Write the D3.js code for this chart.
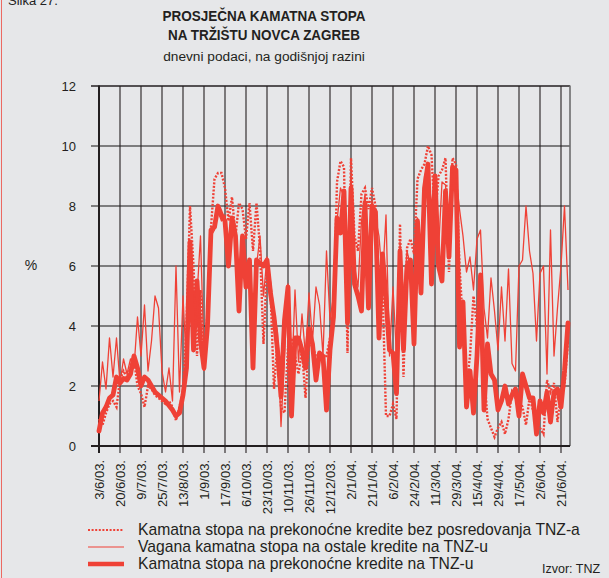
<!DOCTYPE html>
<html><head><meta charset="utf-8">
<script src="https://cdn.jsdelivr.net/npm/d3@7/dist/d3.min.js"></script>
<style>
html,body{margin:0;padding:0;background:#e6e7e9;}
svg{display:block;font-family:"Liberation Sans",Arial,sans-serif;}
</style></head>
<body>
<script>
// ---- data (one value every two working days) ----
const tickLabels = ["3/6/03.","20/6/03.","9/7/03.","25/7/03.","13/8/03.","1/9/03.","17/9/03.","6/10/03.","23/10/03.","10/11/03.","26/11/03.","12/12/03.","2/1/04.","21/1/04.","6/2/04.","24/2/04.","11/3/04.","29/3/04.","15/4/04.","29/4/04.","17/5/04.","2/6/04.","21/6/04."];
const yTicks = [0,2,4,6,8,10,12];

// Kamatna stopa na prekonoćne kredite bez posredovanja TNZ-a (dotted)
const seriesDirect = [0.9,0.7,1.1,1.4,1.5,1.3,2.2,2.5,2.3,2.6,2.9,2.0,1.75,1.3,2.0,1.9,1.7,1.6,1.5,1.4,
1.5,1.3,0.85,1.3,1.8,4.0,8.0,6.0,3.0,5.2,2.5,4.5,7.3,8.9,9.1,9.1,8.6,7.5,8.3,7.0,
8.1,7.9,6.9,8.1,6.5,8.1,6.6,3.4,6.0,5.2,1.9,3.5,1.3,1.1,3.3,3.6,3.0,2.4,3.2,1.6,
3.5,3.3,3.0,3.0,3.0,3.0,3.6,4.2,8.8,9.5,9.3,3.1,9.6,7.0,6.5,8.4,8.6,7.9,8.6,8.0,
5.0,5.3,1.0,1.0,1.4,0.9,7.4,2.3,6.6,6.9,6.4,8.9,9.2,9.4,10.0,9.7,7.5,9.0,9.2,9.6,
5.8,9.6,9.4,6.0,4.0,2.0,3.0,5.0,4.0,4.1,2.5,0.9,0.6,0.3,0.6,0.8,0.4,0.9,1.8,1.6,
1.5,1.3,0.7,1.6,1.2,0.8,0.6,0.4,2.2,1.8,2.1,0.8,1.7,2.0,3.5];

// Vagana kamatna stopa na ostale kredite na TNZ-u (thin)
const seriesOther = [1.5,2.8,1.9,3.6,2.3,3.6,2.1,2.9,2.4,2.9,2.6,4.3,3.0,4.7,2.5,3.5,5.0,4.6,2.5,1.8,
2.6,1.5,6.0,1.8,5.0,2.6,6.5,3.3,5.0,7.0,3.0,4.2,7.0,7.2,7.8,7.5,7.7,6.3,7.5,6.8,
5.0,6.9,5.5,6.0,3.5,6.0,7.0,5.0,6.3,5.5,4.5,3.8,0.65,3.0,5.4,2.0,5.2,2.8,4.4,3.0,
5.1,3.5,5.3,4.7,3.0,6.5,4.2,5.0,7.5,8.6,8.3,5.5,9.0,6.0,5.3,7.5,8.4,6.5,8.2,7.6,
7.0,5.5,7.7,3.0,5.3,3.0,6.8,5.0,6.5,6.0,4.5,7.6,6.5,9.0,9.3,8.0,9.0,6.5,8.8,8.7,
7.0,9.1,9.0,7.9,7.0,5.8,6.3,5.2,6.9,7.2,4.6,3.6,5.6,4.5,3.2,5.3,3.5,5.9,2.75,2.5,
6.0,6.2,8.0,6.5,5.75,3.5,5.75,6.0,2.4,7.2,3.0,4.6,6.0,8.0,5.2];

// Kamatna stopa na prekonoćne kredite na TNZ-u (thick)
const seriesOvernight = [0.5,1.1,1.3,1.6,1.7,2.3,2.1,2.25,2.2,2.4,3.0,2.6,2.0,2.3,2.2,2.0,1.8,1.7,1.6,1.5,
1.35,1.2,1.0,1.1,1.7,2.6,6.8,3.2,5.5,3.5,2.6,4.0,7.2,7.3,8.0,7.7,7.5,6.0,7.6,7.0,
4.5,7.0,5.3,6.2,2.6,6.2,6.1,6.0,6.2,5.1,4.3,3.2,1.65,4.2,5.3,1.0,3.6,3.6,3.2,2.6,
3.9,3.4,2.2,3.1,3.0,1.2,3.2,4.3,7.6,7.1,8.5,4.1,8.6,5.4,5.0,4.5,8.1,4.6,8.0,7.8,
3.6,6.4,4.9,3.2,3.1,1.75,6.5,3.2,6.0,6.2,3.4,7.5,5.1,8.6,9.4,5.4,9.0,6.0,5.5,8.5,
6.3,9.3,9.2,3.3,4.8,1.3,2.5,1.1,3.0,5.7,1.2,3.4,2.4,2.2,1.2,1.5,2.0,1.4,1.7,1.9,
1.0,2.4,2.0,1.6,1.6,0.4,1.5,1.1,1.8,0.8,1.8,1.9,1.3,2.5,4.1];

const legendItems = [
  {label:"Kamatna stopa na prekonoćne kredite bez posredovanja TNZ-a", kind:"dotted"},
  {label:"Vagana kamatna stopa na ostale kredite na TNZ-u", kind:"thin"},
  {label:"Kamatna stopa na prekonoćne kredite na TNZ-u", kind:"thick"}
];

(function(){
const RED = "#ef4136";
const W = 609, H = 578;
const svg = d3.select("body").append("svg").attr("width", W).attr("height", H);
svg.append("rect").attr("width", W).attr("height", H).attr("fill", "#e6e7e9");
svg.append("line").attr("x1",1.5).attr("x2",1.5).attr("y1",0).attr("y2",H)
  .attr("stroke","#ec6a62").attr("stroke-width",1);

svg.append("text").attr("x",8).attr("y",5).attr("font-size",13).attr("fill","#222").text("Slika 27.");

// titles
svg.append("text").attr("x",264).attr("y",20.5).attr("text-anchor","middle")
  .attr("font-size",13.8).attr("font-weight","bold").attr("fill","#231f20")
  .attr("textLength",203).attr("lengthAdjust","spacingAndGlyphs").text("PROSJEČNA KAMATNA STOPA");
svg.append("text").attr("x",264).attr("y",39.5).attr("text-anchor","middle")
  .attr("font-size",13.8).attr("font-weight","bold").attr("fill","#231f20")
  .attr("textLength",192).attr("lengthAdjust","spacingAndGlyphs").text("NA TRŽIŠTU NOVCA ZAGREB");
svg.append("text").attr("x",264).attr("y",61).attr("text-anchor","middle")
  .attr("font-size",13.7).attr("fill","#231f20").text("dnevni podaci, na godišnjoj razini");

const pL = 99, pR = 570, pT = 86, pB = 446;
const x = d3.scaleLinear().domain([0, (pR-pL)/3.5]).range([pL, pR]);
const y = d3.scaleLinear().domain([0, 12]).range([pB, pT]);
const tickIdx = tickLabels.map((d,i)=>i*6);

// horizontal gridlines
svg.append("g").selectAll("line").data(yTicks).join("line")
  .attr("x1", pL-8).attr("x2", pR).attr("y1", d=>y(d)).attr("y2", d=>y(d))
  .attr("stroke", d => d===12 ? "#231f20" : "#5a5a5a").attr("stroke-width", d=> d===12?1.5:1.6);

// vertical gridlines
svg.append("g").selectAll("line").data(tickIdx).join("line")
  .attr("x1", d=>x(d)).attr("x2", d=>x(d)).attr("y1", pT).attr("y2", pB+7)
  .attr("stroke", "#231f20").attr("stroke-width", 1.1);
svg.append("line").attr("x1",pR).attr("x2",pR).attr("y1",pT-0.5).attr("y2",pB)
  .attr("stroke","#6d6d6d").attr("stroke-width",1.6);

// y axis labels
const yAxis = d3.axisLeft(y).tickValues(yTicks).tickSize(0).tickPadding(0).tickFormat(d3.format("d"));
const gy = svg.append("g").attr("transform",`translate(${pL-23},0)`).call(yAxis);
gy.select(".domain").remove();
gy.selectAll("text").attr("font-size",13).attr("fill","#231f20").attr("font-family","Liberation Sans, Arial, sans-serif").attr("dy","0.36em");

svg.append("text").attr("x",31).attr("y",269.5).attr("text-anchor","middle").attr("font-size",14).attr("fill","#231f20").text("%");

// x axis
const xAxis = d3.axisBottom(x).tickValues(tickIdx).tickSize(0).tickFormat((d,i)=>tickLabels[i]);
const gx = svg.append("g").attr("transform",`translate(0,${pB})`).call(xAxis);
gx.select(".domain").remove();
gx.selectAll("text")
  .attr("font-size",13).attr("fill","#231f20").attr("font-family","Liberation Sans, Arial, sans-serif")
  .attr("text-anchor","end").attr("transform","rotate(-90)")
  .attr("x",-14).attr("y",0).attr("dy","0.36em");

// axis frame lines
svg.append("line").attr("x1",pL).attr("x2",pL).attr("y1",pT-0.5).attr("y2",pB+7).attr("stroke","#231f20").attr("stroke-width",2);
svg.append("line").attr("x1",pL-8).attr("x2",pR).attr("y1",pB).attr("y2",pB).attr("stroke","#231f20").attr("stroke-width",2.2);

// lines
const line = d3.line().x((d,i)=>x(i)).y(d=>y(d));
const plot = svg.append("g");
plot.append("path").datum(seriesOther).attr("d",line).attr("fill","none")
  .attr("stroke",RED).attr("stroke-width",1.3).attr("stroke-linejoin","round");
plot.append("path").datum(seriesOvernight).attr("d",line).attr("fill","none")
  .attr("stroke",RED).attr("stroke-width",4.8).attr("stroke-linejoin","round").attr("stroke-linecap","round");
plot.append("path").datum(seriesDirect).attr("d",line).attr("fill","none")
  .attr("stroke",RED).attr("stroke-width",2.4).attr("stroke-dasharray","2,1.6");

// legend
const lg = svg.append("g");
const rowY = [530, 547, 564];
legendItems.forEach((it,i)=>{
  const l = lg.append("line").attr("x1",88).attr("x2",124).attr("y1",rowY[i]).attr("y2",rowY[i]).attr("stroke",RED);
  if(it.kind==="dotted") l.attr("stroke-width",2.2).attr("stroke-dasharray","2,1.6");
  else if(it.kind==="thin") l.attr("stroke-width",1.2);
  else l.attr("stroke-width",4.5);
  lg.append("text").attr("x",138).attr("y",rowY[i]+5).attr("font-size",15.7).attr("fill","#231f20").text(it.label);
});
svg.append("text").attr("x",542).attr("y",573).attr("font-size",12.5).attr("fill","#231f20").text("Izvor: TNZ");
})();
</script>
</body></html>
